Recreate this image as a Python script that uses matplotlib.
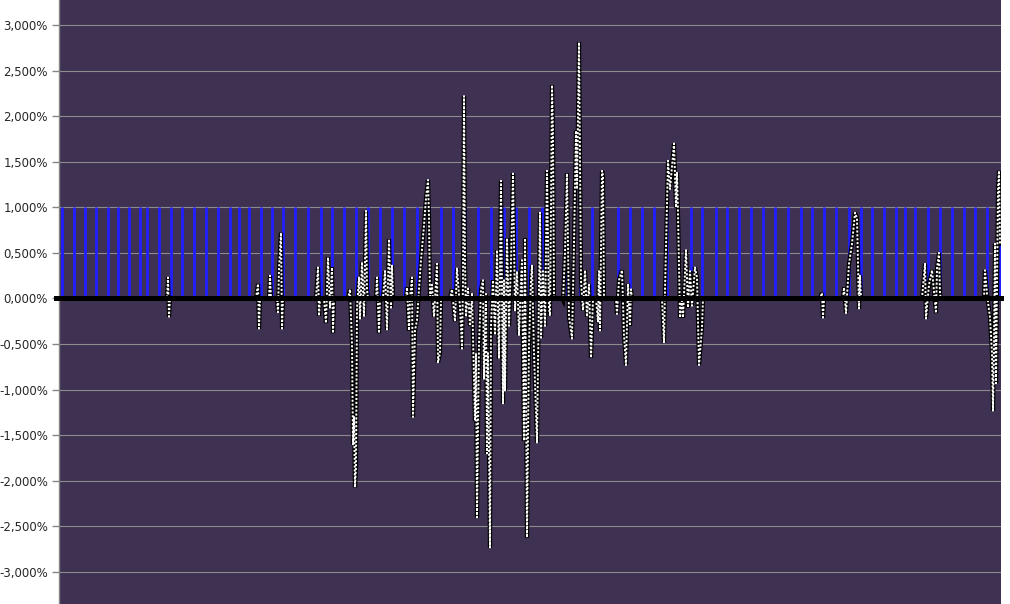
import matplotlib
matplotlib.use('Agg')
import matplotlib.pyplot as plt
from matplotlib.ticker import FuncFormatter

obs = [0, 108, 109, 110, 111,
       197, 199, 200, 201, 210, 211, 212, 218, 219, 220, 222, 223, 224,
       257, 259, 260, 261, 265, 267, 269, 271, 273, 274, 275,
       289, 291, 293, 294, 295, 296, 297, 298, 300, 301, 303, 305, 307, 308, 309,
       317, 318, 320, 321, 324, 326, 328, 330, 331, 332, 333, 334,
       347, 348, 350, 351, 352, 353, 354, 356, 358, 360, 362, 365, 367, 369, 370, 371,
       373, 375, 378, 379, 381, 382,
       391, 393, 396, 398, 401, 403, 404, 405, 406, 407, 409, 411, 413, 416, 417, 418,
       420, 422, 424, 425, 427, 428, 429, 431, 432, 434, 436, 438, 440, 442, 444, 445,
       446, 448, 450, 452, 454, 456, 458, 460, 462, 463, 465, 466, 468, 470, 472, 473,
       475, 478, 480, 481, 482, 484, 486, 488, 490, 491, 492, 493, 494, 495,
       503, 504, 506, 508, 510, 513, 515, 517, 518, 520, 522, 524, 526, 528, 530, 532, 534,
       537, 539, 540, 541, 543, 544, 545,
       557, 558, 560, 563, 565, 567, 569, 571, 572, 573,
       603, 605, 606, 609, 611, 613, 615, 617, 618, 619, 621, 623, 624, 627, 629, 631,
       633, 636, 638, 640, 643, 644,
       761, 763, 764, 765,
       784, 785, 787, 790, 793, 796, 798, 800, 801, 802,
       863, 866, 867, 870, 873, 877, 878, 880, 881, 882,
       925, 926, 928, 931, 933, 934, 935, 936, 937, 939, 940, 941]
ret = [0, 0, 0.23, -0.20, 0,
       0, 0.16, -0.33, 0, 0, 0.25, 0, 0, -0.15, 0.32, 0.72, -0.33, 0,
       0, 0.34, -0.19, 0, 0, -0.27, 0.45, -0.10, 0.34, -0.38, 0,
       0, 0.10, -0.50, -1.60, -1.30, -2.07, -1.85, -0.10, 0.23, -0.22, 0.40, -0.19, 0.96, 0.10, 0,
       0, 0.23, -0.38, 0, 0, 0.30, -0.34, 0.65, 0.20, -0.10, 0.36, 0,
       0, 0.12, -0.35, 0, 0.12, 0.23, -1.30, -0.35, -0.24, 0.10, 0.42, 0.80, 1.10, 1.30, 0.89, 0,
       0.15, -0.20, 0.38, -0.70, -0.60, 0,
       0, 0.10, -0.25, 0.33, -0.10, -0.55, 0.20, 2.22, 0.40, -0.20, 0.11, -0.30, 0.05, -1.34, -0.60, -2.40,
       -0.50, 0.10, 0.20, -0.88, 0.05, -1.70, -0.60, -2.73, -0.30, 0.20, -0.40, 0.53, -0.66, 1.29, -1.15, 0.20,
       -1.01, 0.66, -0.30, 0.40, 1.37, -0.13, 0.30, -0.40, 0.20, 0.42, -1.56, 0.66, -2.62, -0.50, 0.20, 0.36,
       -0.60, -1.58, 0.10, 0.94, -0.43, 0.30, -0.30, 1.40, -0.10, -0.19, 1.00, 2.34, 1.82, 0,
       0, -0.02, 0.50, 1.37, -0.20, -0.44, 0.60, 1.84, 1.20, 2.81, 0.20, -0.13, 0.31, -0.20, 0.15, -0.65, 0,
       0, -0.26, 0.30, -0.35, 1.40, 1.35, 0,
       0, -0.17, 0.20, 0.31, -0.40, -0.73, 0.16, -0.30, 0.10, 0,
       0, -0.48, 0.09, 1.51, 1.20, 1.45, 1.70, 1.00, 1.38, 0.93, -0.21, 0, -0.21, 0.53, -0.10, 0.30,
       -0.08, 0.34, 0.23, -0.73, -0.32, 0,
       0, 0.06, -0.21, 0,
       0, 0.12, -0.16, 0.38, 0.60, 0.94, 0.88, -0.11, 0.25, 0,
       0, 0.38, -0.22, 0.15, 0.31, -0.16, 0.33, 0.50, 0.05, 0,
       0, 0.31, 0.05, -0.21, -0.60, -1.23, -0.50, 0.60, -0.93, 1.20, 1.40, 0.60]

# signal pulses (observation numbers where the signal series jumps to 1%)
signal_obs = [3, 15, 26, 37, 49, 59, 70, 81, 88, 100, 112, 123, 135, 147, 159, 171, 180,
              190, 202, 213, 224, 236, 249, 262, 273, 285, 297, 309, 321, 333, 345, 358,
              370, 382, 394, 406, 419, 432, 445, 457, 470, 483, 508, 521, 533, 559, 571,
              583, 595, 608, 632, 643, 657, 668, 680, 692, 704, 716, 729, 742, 753, 765,
              777, 790, 802, 813, 825, 837, 846, 856, 869, 881, 893, 905, 916, 928, 941]
signal_level = 1.0

yticks = [-3, -2.5, -2, -1.5, -1, -0.5, 0, 0.5, 1, 1.5, 2, 2.5, 3]

fig = plt.figure(figsize=(10.10, 6.04), dpi=100)
ax = fig.add_axes([59 / 1010, 0, 942 / 1010, 1])
ax.set_facecolor('#3F3151')

ax.set_xlim(0, 942)
ax.set_ylim(-3.351, 3.274)
ax.set_yticks(yticks)
ax.yaxis.set_major_formatter(FuncFormatter(lambda v, p: ('%.3f%%' % v).replace('.', ',')))
ax.tick_params(axis='y', length=5, width=1, color='#868686', labelsize=8.5,
               labelcolor='#262626', pad=3)
ax.set_xticks([])
ax.grid(axis='y', color='#8C8C8C', linewidth=0.8)
ax.set_axisbelow(True)
for side in ['top', 'right', 'bottom']:
    ax.spines[side].set_visible(False)
ax.spines['left'].set_color('#868686')
ax.spines['left'].set_linewidth(1)

# signal series
ax.vlines(signal_obs, 0, signal_level, color='#1F1FFF', linewidth=2.0, zorder=2)

# return series: black line with small white markers
ax.plot(obs, ret, color='black', linewidth=3.0, zorder=3, solid_joinstyle='miter')
ax.plot(obs, ret, color='white', linewidth=1.4, linestyle=(0, (1.1, 0.9)), zorder=4)

# zero line
ax.axhline(0, xmin=-0.003, color='black', linewidth=3.6, zorder=5, clip_on=False)

fig.savefig('out.png', dpi=100, facecolor='white')
